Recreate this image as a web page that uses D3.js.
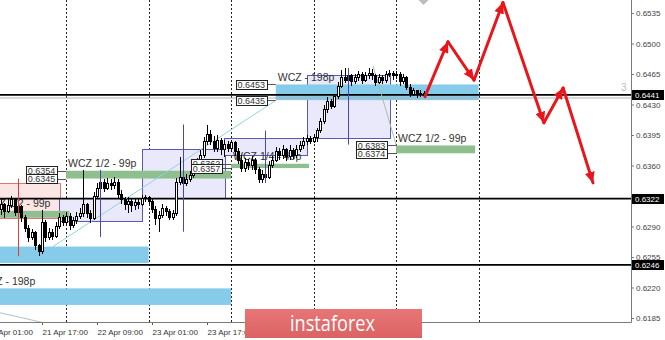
<!DOCTYPE html>
<html>
<head>
<meta charset="utf-8">
<title>NZDUSD H1</title>
<style>
  body { margin: 0; background: #fff; }
  svg { display: block; font-family: "Liberation Sans", Arial, sans-serif; }
</style>
</head>
<body>
<svg width="665" height="340"></svg>
<script src="https://cdn.jsdelivr.net/npm/d3@7/dist/d3.min.js"></script>
<script>

// hours are counted from 21 Apr 17:00, one candle per hour
var firstHour = -12;

// [open, high, low, close]
var candles = [
  [0.6309,0.6321,0.6303,0.6315],[0.6315,0.6317,0.6300,0.6307],[0.6307,0.6323,0.6305,0.6314],[0.6314,0.6325,0.6311,0.6321],
  [0.6321,0.6322,0.6302,0.6306],[0.6306,0.6317,0.6303,0.6313],[0.6313,0.6315,0.6295,0.6300],[0.6300,0.6303,0.6284,0.6288],
  [0.6288,0.6292,0.6272,0.6277],[0.6277,0.6287,0.6275,0.6283],[0.6283,0.6285,0.6263,0.6268],[0.6268,0.6270,0.6256,0.6261],
  [0.6261,0.6309,0.6259,0.6295],[0.6295,0.6298,0.6272,0.6277],[0.6277,0.6288,0.6275,0.6283],[0.6283,0.6287,0.6275,0.6279],
  [0.6279,0.6295,0.6277,0.6290],[0.6290,0.6306,0.6287,0.6300],[0.6300,0.6303,0.6291,0.6295],[0.6295,0.6307,0.6292,0.6301],
  [0.6301,0.6305,0.6286,0.6291],[0.6291,0.6301,0.6288,0.6297],[0.6297,0.6307,0.6293,0.6301],[0.6301,0.6311,0.6299,0.6305],
  [0.6305,0.6355,0.6301,0.6315],[0.6315,0.6317,0.6300,0.6305],[0.6305,0.6309,0.6294,0.6299],[0.6299,0.6330,0.6297,0.6324],
  [0.6324,0.6340,0.6322,0.6334],[0.6334,0.6346,0.6330,0.6340],[0.6340,0.6344,0.6330,0.6334],[0.6334,0.6346,0.6332,0.6339],
  [0.6339,0.6344,0.6332,0.6337],[0.6337,0.6347,0.6333,0.6340],[0.6340,0.6344,0.6323,0.6327],[0.6327,0.6332,0.6316,0.6321],
  [0.6321,0.6324,0.6309,0.6315],[0.6315,0.6324,0.6305,0.6319],[0.6319,0.6323,0.6307,0.6314],[0.6314,0.6323,0.6309,0.6318],
  [0.6318,0.6322,0.6310,0.6315],[0.6315,0.6326,0.6313,0.6322],[0.6322,0.6326,0.6318,0.6323],[0.6323,0.6325,0.6316,0.6319],
  [0.6319,0.6322,0.6305,0.6309],[0.6309,0.6313,0.6292,0.6299],[0.6299,0.6308,0.6284,0.6303],[0.6303,0.6316,0.6300,0.6311],
  [0.6311,0.6314,0.6302,0.6307],[0.6307,0.6310,0.6297,0.6300],[0.6300,0.6309,0.6297,0.6305],[0.6305,0.6346,0.6302,0.6341],
  [0.6341,0.6370,0.6338,0.6346],[0.6346,0.6348,0.6334,0.6339],[0.6339,0.6350,0.6336,0.6344],[0.6344,0.6354,0.6341,0.6348],
  [0.6348,0.6361,0.6346,0.6355],[0.6355,0.6369,0.6352,0.6362],[0.6362,0.6378,0.6360,0.6371],[0.6371,0.6393,0.6369,0.6387],
  [0.6387,0.6407,0.6384,0.6396],[0.6396,0.6401,0.6383,0.6387],[0.6387,0.6394,0.6376,0.6380],[0.6380,0.6395,0.6376,0.6389],
  [0.6389,0.6392,0.6372,0.6378],[0.6378,0.6389,0.6370,0.6384],[0.6384,0.6388,0.6376,0.6380],[0.6380,0.6389,0.6376,0.6386],
  [0.6386,0.6388,0.6371,0.6376],[0.6376,0.6380,0.6362,0.6366],[0.6366,0.6372,0.6353,0.6357],[0.6357,0.6369,0.6353,0.6364],
  [0.6364,0.6368,0.6355,0.6360],[0.6360,0.6371,0.6355,0.6366],[0.6366,0.6369,0.6350,0.6355],[0.6355,0.6358,0.6340,0.6344],
  [0.6344,0.6355,0.6340,0.6350],[0.6350,0.6355,0.6342,0.6346],[0.6346,0.6365,0.6344,0.6360],[0.6360,0.6371,0.6357,0.6366],
  [0.6366,0.6381,0.6364,0.6376],[0.6376,0.6380,0.6366,0.6371],[0.6371,0.6384,0.6368,0.6378],[0.6378,0.6380,0.6365,0.6370],
  [0.6370,0.6383,0.6366,0.6377],[0.6377,0.6380,0.6368,0.6371],[0.6371,0.6383,0.6369,0.6378],[0.6378,0.6388,0.6376,0.6383],
  [0.6383,0.6393,0.6379,0.6387],[0.6387,0.6395,0.6384,0.6391],[0.6391,0.6394,0.6385,0.6388],[0.6388,0.6396,0.6386,0.6392],
  [0.6392,0.6403,0.6387,0.6400],[0.6400,0.6415,0.6397,0.6410],[0.6410,0.6430,0.6408,0.6424],[0.6424,0.6439,0.6420,0.6433],
  [0.6433,0.6436,0.6425,0.6428],[0.6428,0.6442,0.6426,0.6439],[0.6439,0.6456,0.6436,0.6451],[0.6451,0.6470,0.6449,0.6461],
  [0.6461,0.6472,0.6455,0.6458],[0.6458,0.6470,0.6455,0.6463],[0.6463,0.6465,0.6451,0.6456],[0.6456,0.6465,0.6453,0.6461],
  [0.6461,0.6469,0.6457,0.6464],[0.6464,0.6467,0.6454,0.6458],[0.6458,0.6467,0.6456,0.6463],[0.6463,0.6472,0.6459,0.6466],
  [0.6466,0.6471,0.6458,0.6463],[0.6463,0.6465,0.6451,0.6455],[0.6455,0.6465,0.6453,0.6461],[0.6461,0.6464,0.6454,0.6457],
  [0.6457,0.6469,0.6455,0.6464],[0.6464,0.6470,0.6461,0.6466],[0.6466,0.6469,0.6458,0.6463],[0.6463,0.6469,0.6459,0.6465],
  [0.6465,0.6467,0.6451,0.6456],[0.6456,0.6465,0.6453,0.6461],[0.6461,0.6463,0.6447,0.6450],[0.6450,0.6454,0.6439,0.6442],
  [0.6442,0.6449,0.6440,0.6446],[0.6446,0.6447,0.6438,0.6441],[0.6441,0.6447,0.6439,0.6443],[0.6443,0.6445,0.6438,0.6440]
];

// daily candles drawn over the hourly chart
var dayStart = [-19, 5, 29, 53, 77];
var dayEnd   = [5, 29, 53, 77, 101];
var dayOpen  = [0.6340, 0.6297, 0.6323, 0.6372, 0.6392];
var dayClose = [0.6300, 0.6323, 0.6379, 0.6392, 0.6464];
var dayHigh  = [0.6345, 0.6355, 0.6407, 0.6400, 0.6472];
var dayLow   = [0.6256, 0.6278, 0.6284, 0.6340, 0.6384];

// WCZ zones
var zoneLabel = ["WCZ - 198p", "WCZ 1/2 - 99p", "WCZ 1/4 - 49p", "WCZ 1/2 - 99p", "WCZ - 198p", "WCZ - 198p", "WCZ 1/2 - 99p"];
var zoneFrom  = [68, 103, 55, 7, -40, -19, -18];
var zoneTo    = [127, 126, 77.7, 55, 31, 55, 8];
var zoneTop   = [0.6453, 0.6383, 0.6362, 0.6354, 0.6267, 0.6219, 0.6308];
var zoneBot   = [0.6435, 0.6374, 0.6357, 0.6345, 0.6248, 0.6200, 0.6300];
var zoneKind  = ["blue", "green", "green", "green", "blue", "blue", "green"];
var zoneTags  = [true, true, true, true, false, false, false];

var levels = [0.6441, 0.6322, 0.6246];
var daySeparators = [7, 31, 55, 79, 103, 127];

// 0.6325 sits under the 0.6322 tag, so it is not listed
var priceTicks = [0.6185, 0.6220, 0.6255, 0.6290, 0.6360, 0.6395, 0.6430, 0.6465, 0.6500, 0.6535];
var timeTicks  = [-16, 0, 16, 32, 48];
var timeLabels = ["21 Apr 01:00", "21 Apr 17:00", "22 Apr 09:00", "23 Apr 01:00", "23 Apr 17:00"];

// forecast path
var forecastHour  = [111.4, 118.1, 125.7, 134.1, 146, 151.6, 160.3];
var forecastPrice = [0.6439, 0.6502, 0.6458, 0.6547, 0.6409, 0.6449, 0.6340];

// thin trend lines [h1, p1, h2, p2]
var trendLines = [
  [3.2, 0.6267, 68.1, 0.6435, "#8fd3e3"],
  [-12.2, 0.6191, 0, 0.6180, "#a9c4c4"],
  [96.3, 0.6474, 103, 0.6384, "#a3bfa8"]
];

var svg = d3.select("svg"),
    plotRight = 631,
    plotBottom = 322;

var x = d3.scaleLinear().domain([0, 16]).range([42, 97]);
var y = d3.scaleLinear().domain([0.6185, 0.6535]).range([318, 13]);

var defs = svg.append("defs");
defs.append("clipPath").attr("id", "plot")
    .append("rect").attr("width", plotRight).attr("height", plotBottom);

defs.append("marker")
    .attr("id", "head")
    .attr("markerUnits", "userSpaceOnUse")
    .attr("markerWidth", 12).attr("markerHeight", 10)
    .attr("refX", 11).attr("refY", 5)
    .attr("orient", "auto")
    .append("path").attr("d", "M0,0 L11,5 L0,10 Z").attr("fill", "#e8161b");

var logoGrad = defs.append("linearGradient").attr("id", "logoGrad")
    .attr("x1", 0).attr("y1", 0).attr("x2", 0).attr("y2", 1);
logoGrad.append("stop").attr("offset", "0%").attr("stop-color", "#e87676");
logoGrad.append("stop").attr("offset", "100%").attr("stop-color", "#db6262");

var plot = svg.append("g").attr("clip-path", "url(#plot)");

// day separators
plot.selectAll(".sep").data(daySeparators).enter().append("line")
    .attr("x1", d => Math.round(x(d)) + 0.5).attr("x2", d => Math.round(x(d)) + 0.5)
    .attr("y1", 0).attr("y2", plotBottom)
    .attr("stroke", "#222").attr("stroke-dasharray", "2,2");

// daily bodies
dayStart.forEach(function (s, i) {
    var up = dayClose[i] >= dayOpen[i];
    plot.append("rect")
        .attr("x", Math.round(x(s)) + 0.5)
        .attr("width", Math.round(x(dayEnd[i]) - x(s)))
        .attr("y", Math.round(y(Math.max(dayOpen[i], dayClose[i]))) + 0.5)
        .attr("height", Math.round(Math.abs(y(dayOpen[i]) - y(dayClose[i]))))
        .attr("fill", up ? "#e9e9fb" : "#fce5e5")
        .attr("stroke", up ? "#5959b8" : "#e27474");
});

// zones
zoneLabel.forEach(function (name, i) {
    plot.append("rect")
        .attr("x", x(zoneFrom[i]))
        .attr("width", x(zoneTo[i]) - x(zoneFrom[i]))
        .attr("y", y(zoneTop[i]))
        .attr("height", y(zoneBot[i]) - y(zoneTop[i]))
        .attr("fill", zoneKind[i] == "blue" ? "#86cbe9" : "#8fbf8f");
    if (x(zoneFrom[i]) < -60) return; // label lies fully left of the window
    plot.append("text")
        .attr("x", x(zoneFrom[i]) + 2)
        .attr("y", y(zoneTop[i]) - 3.5)
        .attr("font-size", "10.5px")
        .attr("fill", "#333")
        .text(name);
});

// horizontal levels
plot.append("line")
    .attr("x1", 0).attr("x2", plotRight)
    .attr("y1", y(0.6438) + 0.5).attr("y2", y(0.6438) + 0.5)
    .attr("stroke", "#b0b0b0");
plot.selectAll(".level").data(levels).enter().append("line")
    .attr("x1", 0).attr("x2", plotRight)
    .attr("y1", d => y(d)).attr("y2", d => y(d))
    .attr("stroke", "#000").attr("stroke-width", 1.7);

// trend lines
trendLines.forEach(function (t) {
    plot.append("line")
        .attr("x1", x(t[0])).attr("y1", y(t[1]))
        .attr("x2", x(t[2])).attr("y2", y(t[3]))
        .attr("stroke", t[4]).attr("stroke-width", 1);
});

// hourly candles
var cg = plot.append("g").attr("shape-rendering", "crispEdges");
candles.forEach(function (c, i) {
    var cx = Math.round(x(firstHour + i));
    var up = c[3] >= c[0];
    cg.append("line")
        .attr("x1", cx + 0.5).attr("x2", cx + 0.5)
        .attr("y1", y(c[1])).attr("y2", y(c[2]))
        .attr("stroke", "#000");
    var top = y(Math.max(c[0], c[3])), bot = y(Math.min(c[0], c[3]));
    cg.append("rect")
        .attr("x", cx - 0.5).attr("width", 2)
        .attr("y", top).attr("height", Math.max(1, bot - top))
        .attr("fill", up ? "#fff" : "#000")
        .attr("stroke", "#000");
});

// daily wicks
dayStart.forEach(function (s, i) {
    var up = dayClose[i] >= dayOpen[i];
    var mx = Math.round(x((s + dayEnd[i]) / 2)) + 0.5;
    plot.append("line")
        .attr("x1", mx).attr("x2", mx)
        .attr("y1", y(dayHigh[i])).attr("y2", y(dayLow[i]))
        .attr("stroke", up ? "#4646b4" : "#e03c3c");
});

// price tags of the zones
function priceTag(px, price) {
    var ty = y(price);
    plot.append("line")
        .attr("x1", px - 9).attr("x2", px)
        .attr("y1", Math.round(ty) + 0.5).attr("y2", Math.round(ty) + 0.5)
        .attr("stroke", "#555");
    plot.append("rect")
        .attr("x", Math.round(px - 40) + 0.5).attr("y", Math.round(ty - 4.5) + 0.5)
        .attr("width", 31).attr("height", 9)
        .attr("fill", "#fff").attr("stroke", "#222");
    plot.append("text")
        .attr("x", px - 24.5).attr("y", ty + 3.5)
        .attr("text-anchor", "middle")
        .attr("font-size", "9px").attr("fill", "#333")
        .text(price.toFixed(4));
}
zoneLabel.forEach(function (name, i) {
    if (!zoneTags[i]) return;
    priceTag(x(zoneFrom[i]), zoneTop[i]);
    priceTag(x(zoneFrom[i]), zoneBot[i]);
});

// forecast arrows
for (var k = 1; k < forecastHour.length; k++) {
    var x1 = x(forecastHour[k - 1]), y1 = y(forecastPrice[k - 1]),
        x2 = x(forecastHour[k]), y2 = y(forecastPrice[k]);
    var len = Math.hypot(x2 - x1, y2 - y1);
    plot.append("line")
        .attr("x1", x1).attr("y1", y1)
        .attr("x2", x2 - (x2 - x1) / len * 0.01).attr("y2", y2 - (y2 - y1) / len * 0.01)
        .attr("stroke", "#e8161b").attr("stroke-width", 3)
        .attr("stroke-linecap", "round")
        .attr("marker-end", "url(#head)");
}

// small grey marker at the top
plot.append("path")
    .attr("d", "M" + (x(111) - 5) + ",0 L" + (x(111) + 5) + ",0 L" + x(111) + "," + 5 + " Z")
    .attr("fill", "#bdbdbd");

// axes
var yAxis = svg.append("g")
    .attr("transform", "translate(" + plotRight + ",0)")
    .call(d3.axisRight(y).tickValues(priceTicks).tickSize(3).tickPadding(2).tickFormat(d3.format(".4f")));
yAxis.select(".domain").remove();
yAxis.selectAll("line").attr("stroke", "#777");
yAxis.selectAll("text").attr("font-size", "8px").attr("fill", "#444").attr("font-family", "Liberation Sans, Arial, sans-serif");

var xAxis = svg.append("g")
    .attr("transform", "translate(0," + plotBottom + ")")
    .call(d3.axisBottom(x).tickValues(timeTicks).tickSize(3).tickPadding(4).tickFormat((d, i) => timeLabels[i]));
xAxis.select(".domain").remove();
xAxis.selectAll("line").attr("stroke", "#555");
xAxis.selectAll("text").attr("text-anchor", "start").attr("font-size", "8px").attr("fill", "#333").attr("font-family", "Liberation Sans, Arial, sans-serif");

svg.append("path")
    .attr("d", "M0," + (plotBottom + 0.5) + " H" + (plotRight + 0.5) + " V0")
    .attr("fill", "none").attr("stroke", "#7a7a7a");

// level tags on the price axis
levels.forEach(function (lv) {
    svg.append("rect")
        .attr("x", plotRight + 1).attr("y", Math.round(y(lv)) - 5)
        .attr("width", 32).attr("height", 10).attr("fill", "#000");
    svg.append("text")
        .attr("x", plotRight + 4).attr("y", y(lv) + 3)
        .attr("font-size", "8px").attr("fill", "#fff")
        .text(lv.toFixed(4));
});

svg.append("text")
    .attr("x", 621).attr("y", y(0.6441) - 4)
    .attr("font-size", "10px").attr("fill", "#bbb")
    .text("3");

// watermark
svg.append("rect")
    .attr("x", 245).attr("y", 309).attr("width", 177).attr("height", 29)
    .attr("fill", "url(#logoGrad)");
svg.append("text")
    .attr("x", 290).attr("y", 331)
    .attr("font-family", "Open Sans, sans-serif")
    .attr("font-size", "21px").attr("fill", "#fff")
    .attr("textLength", 85).attr("lengthAdjust", "spacingAndGlyphs")
    .text("instaforex");

</script>
</body>
</html>
